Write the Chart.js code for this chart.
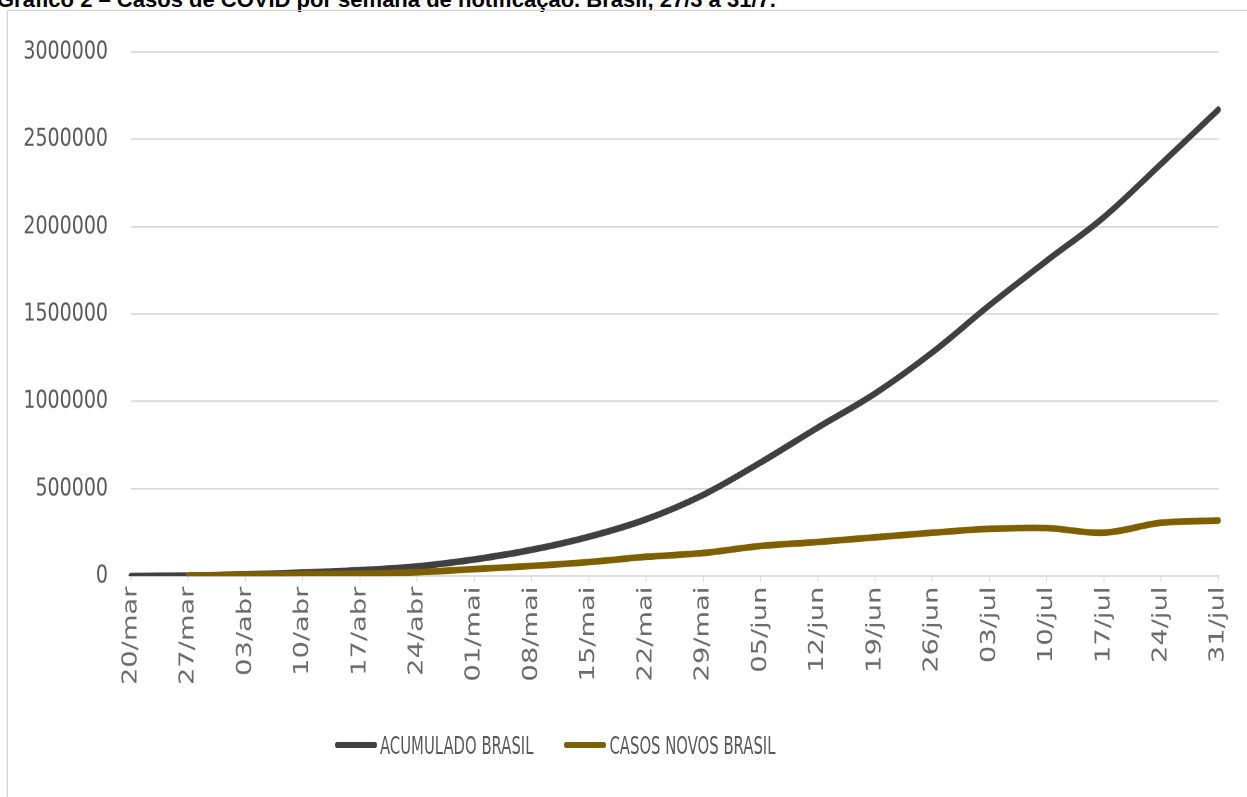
<!DOCTYPE html>
<html>
<head>
<meta charset="utf-8">
<script src="https://cdn.jsdelivr.net/npm/chart.js@4"></script>
<style>
  html, body { margin: 0; padding: 0; background: #ffffff; overflow: hidden; }
  body { width: 1247px; height: 797px; position: relative; }
  #title {
    position: absolute; left: -3px; top: -11px; white-space: nowrap;
    font: bold 22px "Liberation Sans", Arial, sans-serif; color: #000; line-height: 22px;
  }
  #frame {
    position: absolute; left: 7px; top: 10px; width: 1260px; height: 800px;
    border-left: 1px solid #d4d4d4; border-top: 1px solid #d4d4d4;
    box-shadow: -1px -1px 2px rgba(0,0,0,0.06);
  }
  #wrap {
    position: absolute; left: 0; top: 0; width: 1247px; height: 600px;
    transform: scaleY(1.33); transform-origin: 0 0;
  }
  #legend {
    position: absolute; left: 335px; top: 735px; height: 20px;
    display: flex; align-items: center;
    transform: scaleY(1.45); transform-origin: 0 50%;
    font: 16.5px "Liberation Sans Narrow", "Arial Narrow", "DejaVu Sans Condensed", sans-serif;
    color: #595959; white-space: nowrap;
  }
  #legend .item { display: flex; align-items: center; margin-right: 31px; }
  #legend .sw { width: 42px; height: 4.8px; border-radius: 2.4px; margin-right: 3px; }
</style>
</head>
<body>
<div id="title">Gráfico 2 – Casos de COVID por semana de notificação. Brasil, 27/3 a 31/7.</div>
<div id="frame"></div>
<div id="wrap"><canvas id="c"></canvas></div>
<div id="legend"></div>
<script>
const categories = ["20/mar","27/mar","03/abr","10/abr","17/abr","24/abr","01/mai","08/mai","15/mai","22/mai","29/mai","05/jun","12/jun","19/jun","26/jun","03/jul","10/jul","17/jul","24/jul","31/jul"];
const acumuladoBrasil = [0, 3000, 9000, 20000, 33000, 55000, 95000, 150000, 225000, 325000, 465000, 650000, 850000, 1045000, 1280000, 1550000, 1805000, 2055000, 2360000, 2670000];
const casosNovosBrasil = [null, 2500, 6000, 11000, 14000, 22000, 40000, 58000, 80000, 110000, 132000, 172000, 195000, 222000, 248000, 270000, 275000, 248000, 305000, 318000];
const seriesNames = ["ACUMULADO BRASIL", "CASOS NOVOS BRASIL"];
const seriesColors = ["#404040", "#7f6000"];
const yTicks = [0, 500000, 1000000, 1500000, 2000000, 2500000, 3000000];

const yTickFont = { family: "'DejaVu Sans', sans-serif", size: 19 };
const xTickFont = { family: "'DejaVu Sans', sans-serif", size: 20.5 };

const chart = new Chart(document.getElementById('c'), {
  type: 'line',
  data: {
    labels: categories,
    datasets: [
      {
        label: seriesNames[0], data: acumuladoBrasil,
        borderColor: seriesColors[0], backgroundColor: seriesColors[0],
        borderWidth: 5, tension: 0.35, pointRadius: 0, borderCapStyle: 'round',
        fill: false, order: 2
      },
      {
        label: seriesNames[1], data: casosNovosBrasil,
        borderColor: seriesColors[1], backgroundColor: seriesColors[1],
        borderWidth: 5, tension: 0.35, pointRadius: 0, borderCapStyle: 'round',
        fill: false, order: 1, spanGaps: false
      }
    ]
  },
  options: {
    responsive: true, maintainAspectRatio: false, animation: false,
    devicePixelRatio: 2,
    layout: { padding: { left: 0, right: 23, top: 39.1, bottom: 66.9 } },
    plugins: {
      legend: { display: false },
      tooltip: { enabled: false }
    },
    scales: {
      x: {
        offset: false,
        grid: { drawOnChartArea: false, drawTicks: true, tickLength: 4, color: '#d9d9d9' },
        border: { display: true, color: '#d9d9d9' },
        ticks: { font: xTickFont, color: '#6b6b6b', minRotation: 90, maxRotation: 90, autoSkip: false, padding: 4 },
        afterFit: (s) => { s.height = 100; }
      },
      y: {
        min: 0, max: 3000000,
        afterBuildTicks: (s) => { s.ticks = yTicks.map(v => ({ value: v })); },
        grid: { drawTicks: false, color: '#d9d9d9', lineWidth: 1.2 },
        border: { display: false },
        ticks: { font: yTickFont, color: '#595959', padding: 23, callback: (v) => String(v) },
        afterFit: (s) => { s.width = 131; }
      }
    }
  }
});

// HTML legend built from the chart's datasets
const legendEl = document.getElementById('legend');
chart.data.datasets.forEach((ds) => {
  const item = document.createElement('div');
  item.className = 'item';
  const sw = document.createElement('span');
  sw.className = 'sw';
  sw.style.background = ds.borderColor;
  const tx = document.createElement('span');
  tx.textContent = ds.label;
  item.appendChild(sw);
  item.appendChild(tx);
  legendEl.appendChild(item);
});
</script>
</body>
</html>
